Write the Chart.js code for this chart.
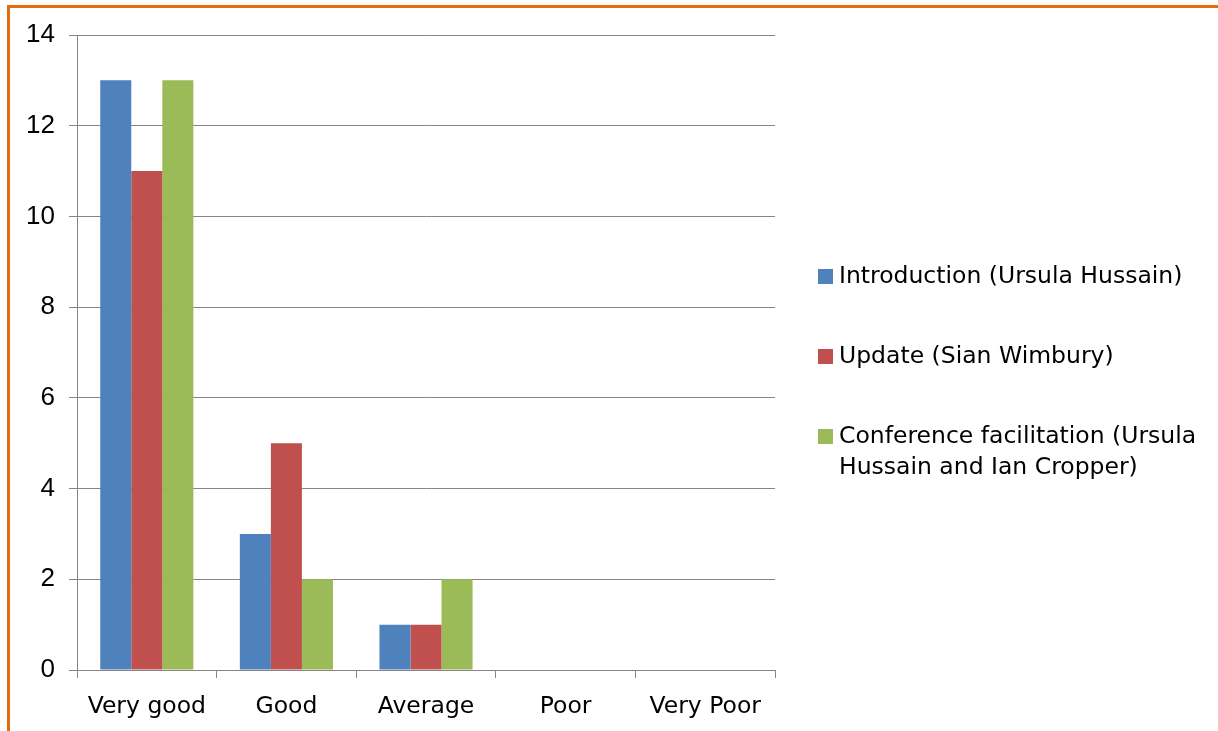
<!DOCTYPE html>
<html lang="en">
<head>
  <meta charset="UTF-8">
  <title>Session feedback ratings</title>
  <script src="https://cdn.jsdelivr.net/npm/chart.js"></script>
  <style>
    html, body {
      margin: 0;
      padding: 0;
      background: #ffffff;
      overflow: hidden;
    }
    .frame {
      position: absolute;
      left: 7px;
      top: 5px;
      width: 1300px;
      height: 800px;
      border-top: 3px solid #e46c0a;
      border-left: 3px solid #e46c0a;
    }
    .wrap {
      position: absolute;
      left: 0;
      top: 0;
      width: 1218px;
      height: 731px;
    }
    #legend {
      position: absolute;
      left: 818px;
      top: 260px;
      width: 395px;
      font-family: 'DejaVu Sans', sans-serif;
      font-size: 23.5px;
      line-height: 31px;
      color: #000;
    }
    #legend .item {
      display: flex;
      align-items: flex-start;
      margin-bottom: 49px;
    }
    #legend .box {
      flex: 0 0 15px;
      width: 15px;
      height: 15px;
      margin-top: 9px;
      margin-right: 6px;
    }
  </style>
</head>
<body>
  <div class="frame"></div>
  <div class="wrap">
    <canvas id="ratingChart" width="1218" height="731"></canvas>
  </div>
  <div id="legend"></div>

  <script>
    const categories = ['Very good', 'Good', 'Average', 'Poor', 'Very Poor'];
    const seriesNames = [
      'Introduction (Ursula Hussain)',
      'Update (Sian Wimbury)',
      'Conference facilitation (Ursula Hussain and Ian Cropper)'
    ];
    const introduction = [13, 3, 1, 0, 0];
    const update = [11, 5, 1, 0, 0];
    const conference = [13, 2, 2, 0, 0];
    const colors = ['#4f81bd', '#c0504d', '#9bbb59'];

    const gridGrey = '#868686';
    const seriesValues = [introduction, update, conference];

    const datasets = seriesNames.map((name, i) => ({
      label: name,
      data: seriesValues[i],
      backgroundColor: colors[i],
      borderWidth: 0,
      categoryPercentage: 0.667,
      barPercentage: 1.0
    }));

    const ctx = document.getElementById('ratingChart').getContext('2d');

    const chart = new Chart(ctx, {
      type: 'bar',
      data: {
        labels: categories,
        datasets: datasets
      },
      options: {
        responsive: false,
        animation: false,
        layout: {
          padding: { left: 0, top: 35, right: 443, bottom: 0 }
        },
        plugins: {
          legend: { display: false },
          tooltip: { enabled: false }
        },
        scales: {
          x: {
            afterFit: (scale) => { scale.height = 61; },
            grid: {
              offset: true,
              drawOnChartArea: false,
              drawTicks: true,
              tickLength: 8,
              color: gridGrey
            },
            border: { display: true, color: gridGrey },
            ticks: {
              color: '#000',
              padding: 15,
              maxRotation: 0,
              font: { family: "'DejaVu Sans', sans-serif", size: 23.5 }
            }
          },
          y: {
            min: 0,
            max: 14,
            afterFit: (scale) => { scale.width = 77; },
            grid: {
              color: gridGrey,
              tickLength: 8,
              drawTicks: true
            },
            border: { display: true, color: gridGrey },
            ticks: {
              stepSize: 2,
              color: '#000',
              padding: 14,
              font: { family: "'Liberation Sans', Arial, sans-serif", size: 26 }
            }
          }
        }
      }
    });

    // legend built from the chart's datasets
    const legendEl = document.getElementById('legend');
    chart.data.datasets.forEach((ds) => {
      const item = document.createElement('div');
      item.className = 'item';
      const box = document.createElement('span');
      box.className = 'box';
      box.style.background = ds.backgroundColor;
      const text = document.createElement('span');
      text.textContent = ds.label;
      item.appendChild(box);
      item.appendChild(text);
      legendEl.appendChild(item);
    });
  </script>
</body>
</html>
